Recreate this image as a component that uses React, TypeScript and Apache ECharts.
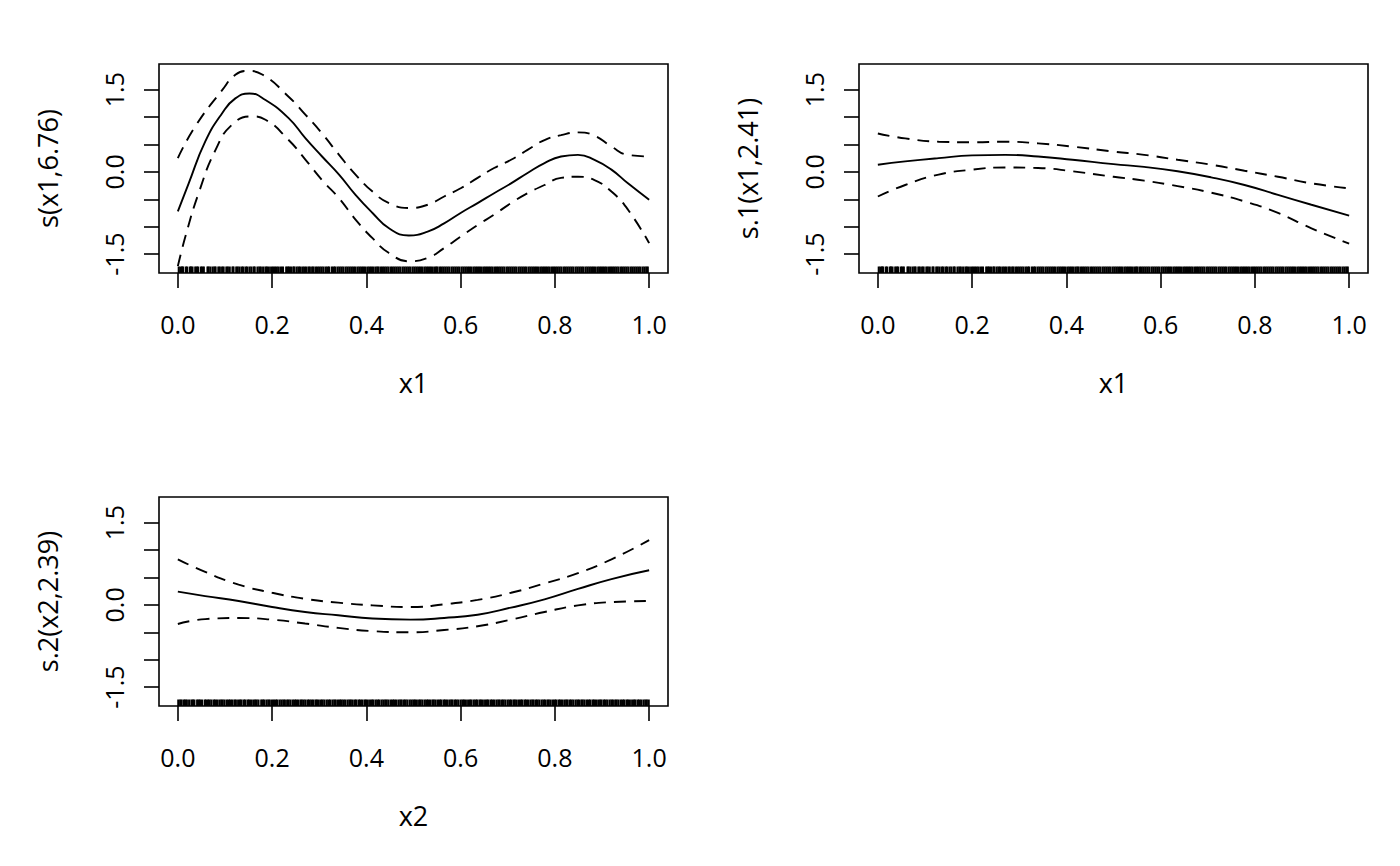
import React, { useEffect, useRef } from "react";
import * as echarts from "echarts";

// ---- axis limits & ticks ----
const X_MIN = -0.04;
const X_MAX = 1.04;
const Y_MIN = -1.845;
const Y_MAX = 1.967;
const xTicks = [0, 0.2, 0.4, 0.6, 0.8, 1.0];
const yTicks = [-1.5, -1.0, -0.5, 0, 0.5, 1.0, 1.5];
const yTickLabels = [-1.5, 0, 1.5];

// ---- panel 1: s(x1,6.76) ----
const p1FitX = [0, 0.023, 0.058, 0.094, 0.122, 0.152, 0.186, 0.235, 0.271, 0.306, 0.342, 0.377, 0.413, 0.448, 0.49, 0.53, 0.565, 0.6, 0.636, 0.671, 0.707, 0.742, 0.778, 0.813, 0.849, 0.884, 0.92, 0.955, 1.0];
const p1Fit = [-0.72, -0.21, 0.55, 1.07, 1.34, 1.43, 1.31, 0.98, 0.61, 0.28, -0.05, -0.42, -0.75, -1.03, -1.16, -1.09, -0.94, -0.75, -0.57, -0.39, -0.21, -0.02, 0.16, 0.28, 0.31, 0.22, 0.04, -0.21, -0.51];
const p1UpX = [0, 0.037, 0.094, 0.122, 0.147, 0.18, 0.235, 0.271, 0.306, 0.342, 0.377, 0.413, 0.448, 0.49, 0.53, 0.565, 0.6, 0.636, 0.671, 0.707, 0.742, 0.778, 0.813, 0.849, 0.884, 0.92, 0.955, 1.0];
const p1Up = [0.25, 0.83, 1.49, 1.77, 1.84, 1.77, 1.37, 1.04, 0.7, 0.31, -0.05, -0.36, -0.57, -0.66, -0.6, -0.45, -0.3, -0.11, 0.07, 0.22, 0.4, 0.58, 0.67, 0.72, 0.66, 0.46, 0.31, 0.28];
const p1LoX = [0, 0.016, 0.044, 0.08, 0.115, 0.157, 0.186, 0.235, 0.271, 0.306, 0.342, 0.377, 0.413, 0.448, 0.49, 0.53, 0.565, 0.6, 0.636, 0.671, 0.707, 0.742, 0.778, 0.813, 0.849, 0.884, 0.92, 0.955, 1.0];
const p1Lo = [-1.72, -1.18, -0.39, 0.4, 0.86, 1.01, 0.95, 0.58, 0.22, -0.15, -0.48, -0.87, -1.21, -1.48, -1.63, -1.57, -1.39, -1.18, -0.97, -0.78, -0.57, -0.39, -0.24, -0.11, -0.09, -0.15, -0.36, -0.69, -1.3];

// ---- panel 2: s.1(x1,2.41) ----
const p2X = [0, 0.058, 0.129, 0.2, 0.27, 0.34, 0.413, 0.5, 0.565, 0.636, 0.707, 0.778, 0.849, 0.92, 1.0];
const p2Fit = [0.13, 0.19, 0.25, 0.3, 0.31, 0.28, 0.22, 0.14, 0.09, 0.01, -0.1, -0.24, -0.42, -0.6, -0.8];
const p2Up = [0.7, 0.61, 0.55, 0.54, 0.55, 0.52, 0.46, 0.37, 0.31, 0.22, 0.13, 0.02, -0.09, -0.21, -0.3];
const p2Lo = [-0.45, -0.24, -0.05, 0.04, 0.08, 0.07, 0.01, -0.09, -0.16, -0.26, -0.38, -0.54, -0.75, -1.03, -1.31];

// ---- panel 3: s.2(x2,2.39) ----
const p3X = [0, 0.058, 0.129, 0.2, 0.27, 0.34, 0.413, 0.494, 0.565, 0.636, 0.707, 0.778, 0.849, 0.92, 1.0];
const p3Fit = [0.24, 0.16, 0.07, -0.04, -0.13, -0.19, -0.25, -0.27, -0.24, -0.18, -0.05, 0.1, 0.29, 0.47, 0.63];
const p3Up = [0.83, 0.6, 0.37, 0.22, 0.11, 0.04, -0.01, -0.04, 0.01, 0.09, 0.22, 0.39, 0.58, 0.83, 1.18];
const p3Lo = [-0.35, -0.26, -0.24, -0.27, -0.34, -0.42, -0.48, -0.5, -0.46, -0.39, -0.27, -0.13, -0.01, 0.05, 0.07];

// ---- rug (covariate values) ----
const x1Rug = [0.002, 0.006, 0.009, 0.011, 0.017, 0.02, 0.026, 0.028, 0.031, 0.037, 0.04, 0.043, 0.049, 0.052, 0.055, 0.063, 0.065, 0.069, 0.074, 0.078, 0.08, 0.086, 0.089, 0.094, 0.097, 0.103, 0.106, 0.11, 0.116, 0.118, 0.124, 0.127, 0.131, 0.136, 0.139, 0.144, 0.147, 0.152, 0.156, 0.161, 0.163, 0.169, 0.173, 0.176, 0.181, 0.186, 0.189, 0.193, 0.198, 0.202, 0.206, 0.21, 0.214, 0.219, 0.223, 0.23, 0.233, 0.236, 0.24, 0.245, 0.247, 0.252, 0.256, 0.259, 0.264, 0.268, 0.272, 0.277, 0.28, 0.285, 0.288, 0.293, 0.297, 0.301, 0.305, 0.309, 0.314, 0.318, 0.321, 0.327, 0.331, 0.334, 0.339, 0.343, 0.347, 0.351, 0.356, 0.36, 0.364, 0.368, 0.372, 0.376, 0.381, 0.385, 0.389, 0.393, 0.397, 0.402, 0.406, 0.41, 0.414, 0.419, 0.423, 0.426, 0.431, 0.435, 0.439, 0.443, 0.447, 0.452, 0.456, 0.46, 0.464, 0.468, 0.472, 0.477, 0.481, 0.485, 0.489, 0.493, 0.498, 0.502, 0.506, 0.51, 0.514, 0.518, 0.523, 0.527, 0.531, 0.535, 0.539, 0.544, 0.548, 0.551, 0.556, 0.56, 0.564, 0.568, 0.572, 0.576, 0.581, 0.585, 0.589, 0.593, 0.597, 0.602, 0.606, 0.61, 0.614, 0.618, 0.622, 0.627, 0.631, 0.635, 0.639, 0.643, 0.648, 0.652, 0.656, 0.66, 0.664, 0.668, 0.673, 0.677, 0.681, 0.685, 0.689, 0.693, 0.698, 0.702, 0.706, 0.71, 0.714, 0.718, 0.723, 0.727, 0.731, 0.735, 0.739, 0.744, 0.748, 0.752, 0.756, 0.76, 0.764, 0.769, 0.773, 0.777, 0.781, 0.785, 0.789, 0.794, 0.798, 0.802, 0.806, 0.81, 0.814, 0.819, 0.823, 0.827, 0.831, 0.835, 0.839, 0.844, 0.848, 0.852, 0.856, 0.86, 0.865, 0.869, 0.873, 0.877, 0.881, 0.885, 0.89, 0.894, 0.898, 0.902, 0.906, 0.91, 0.915, 0.919, 0.923, 0.927, 0.931, 0.935, 0.94, 0.944, 0.948, 0.952, 0.956, 0.961, 0.965, 0.969, 0.973, 0.977, 0.981, 0.986, 0.99, 0.994, 0.997];
const x2Rug = [0.001, 0.005, 0.008, 0.013, 0.016, 0.019, 0.024, 0.029, 0.032, 0.035, 0.041, 0.044, 0.047, 0.051, 0.057, 0.06, 0.064, 0.067, 0.071, 0.076, 0.079, 0.083, 0.088, 0.092, 0.095, 0.099, 0.104, 0.108, 0.111, 0.115, 0.12, 0.123, 0.128, 0.132, 0.135, 0.14, 0.143, 0.148, 0.151, 0.155, 0.16, 0.164, 0.167, 0.171, 0.177, 0.18, 0.183, 0.188, 0.192, 0.195, 0.2, 0.204, 0.208, 0.211, 0.216, 0.22, 0.224, 0.227, 0.232, 0.235, 0.239, 0.244, 0.248, 0.251, 0.255, 0.26, 0.263, 0.267, 0.271, 0.276, 0.279, 0.283, 0.287, 0.292, 0.295, 0.299, 0.304, 0.307, 0.311, 0.316, 0.32, 0.323, 0.328, 0.332, 0.335, 0.34, 0.344, 0.347, 0.351, 0.355, 0.36, 0.364, 0.367, 0.371, 0.376, 0.379, 0.384, 0.387, 0.391, 0.396, 0.399, 0.403, 0.408, 0.412, 0.415, 0.42, 0.424, 0.427, 0.432, 0.436, 0.44, 0.443, 0.447, 0.452, 0.456, 0.459, 0.463, 0.468, 0.472, 0.475, 0.48, 0.483, 0.487, 0.492, 0.496, 0.5, 0.503, 0.507, 0.512, 0.515, 0.519, 0.524, 0.528, 0.531, 0.535, 0.54, 0.543, 0.547, 0.552, 0.556, 0.559, 0.564, 0.567, 0.571, 0.576, 0.58, 0.583, 0.588, 0.591, 0.595, 0.6, 0.604, 0.607, 0.611, 0.616, 0.62, 0.623, 0.628, 0.632, 0.635, 0.64, 0.643, 0.647, 0.652, 0.656, 0.659, 0.664, 0.667, 0.671, 0.676, 0.68, 0.683, 0.688, 0.691, 0.695, 0.7, 0.704, 0.707, 0.712, 0.715, 0.719, 0.724, 0.728, 0.731, 0.736, 0.739, 0.743, 0.748, 0.752, 0.755, 0.76, 0.763, 0.767, 0.772, 0.776, 0.779, 0.784, 0.787, 0.791, 0.796, 0.8, 0.803, 0.808, 0.811, 0.815, 0.82, 0.824, 0.827, 0.832, 0.835, 0.839, 0.844, 0.848, 0.851, 0.856, 0.859, 0.863, 0.868, 0.872, 0.875, 0.88, 0.883, 0.887, 0.892, 0.896, 0.899, 0.904, 0.907, 0.911, 0.916, 0.92, 0.923, 0.928, 0.931, 0.935, 0.94, 0.944, 0.947, 0.952, 0.955, 0.959, 0.964, 0.968, 0.971, 0.976, 0.979, 0.983, 0.988, 0.992, 0.995, 0.999];

const FONT = "Open Sans";
const FS_TICK = 25;
const FS_TITLE = 27;
const LW = 1.6;
const LW_CURVE = 1.9;

const zip = (xs: number[], ys: number[]) => xs.map((x, i) => [x, ys[i]]);

const panels = [
  { left: 159, top: 64, xName: "x1", yName: "s(x1,6.76)", fit: zip(p1FitX, p1Fit), up: zip(p1UpX, p1Up), lo: zip(p1LoX, p1Lo), rug: x1Rug },
  { left: 859, top: 64, xName: "x1", yName: "s.1(x1,2.41)", fit: zip(p2X, p2Fit), up: zip(p2X, p2Up), lo: zip(p2X, p2Lo), rug: x1Rug },
  { left: 159, top: 497, xName: "x2", yName: "s.2(x2,2.39)", fit: zip(p3X, p3Fit), up: zip(p3X, p3Up), lo: zip(p3X, p3Lo), rug: x2Rug },
];

function buildOption() {
  const grid: any[] = [];
  const xAxis: any[] = [];
  const yAxis: any[] = [];
  const series: any[] = [];
  panels.forEach((p, i) => {
    grid.push({
      left: p.left, top: p.top, width: 509, height: 209,
      show: true, borderColor: "#000", borderWidth: LW, backgroundColor: "transparent",
    });
    xAxis.push({
      type: "value", gridIndex: i, min: X_MIN, max: X_MAX, position: "bottom",
      name: p.xName, nameLocation: "middle", nameGap: 96,
      nameTextStyle: { color: "#000", fontFamily: FONT, fontSize: FS_TITLE },
      axisLine: { show: false, onZero: false },
      axisTick: { show: true, length: 15, customValues: xTicks, lineStyle: { color: "#000", width: LW } },
      axisLabel: { customValues: xTicks, margin: 38, color: "#000", fontFamily: FONT, fontSize: FS_TICK, formatter: (v: number) => v.toFixed(1) },
      splitLine: { show: false },
    });
    yAxis.push({
      type: "value", gridIndex: i, min: Y_MIN, max: Y_MAX, position: "left",
      name: p.yName, nameLocation: "middle", nameGap: 98, nameRotate: 90,
      nameTextStyle: { color: "#000", fontFamily: FONT, fontSize: FS_TITLE },
      axisLine: { show: false, onZero: false },
      axisTick: { show: true, length: 15, customValues: yTicks, lineStyle: { color: "#000", width: LW } },
      axisLabel: {
        customValues: yTickLabels, rotate: 90, margin: 33, align: "center", verticalAlign: "bottom",
        color: "#000", fontFamily: FONT, fontSize: FS_TICK, formatter: (v: number) => v.toFixed(1),
      },
      splitLine: { show: false },
    });
    const lineBase = { type: "line", xAxisIndex: i, yAxisIndex: i, showSymbol: false, smooth: 0.5, silent: true };
    series.push({ ...lineBase, data: p.fit, lineStyle: { color: "#000", width: LW_CURVE } });
    series.push({ ...lineBase, data: p.up, lineStyle: { color: "#000", width: LW_CURVE, type: [12, 8] } });
    series.push({ ...lineBase, data: p.lo, lineStyle: { color: "#000", width: LW_CURVE, type: [12, 8] } });
    series.push({
      type: "scatter", xAxisIndex: i, yAxisIndex: i, silent: true,
      data: p.rug.map((x) => [x, Y_MIN]),
      symbol: "rect", symbolSize: [2.2, 6.5], symbolOffset: [0, "-50%"],
      itemStyle: { color: "#000", opacity: 1 },
    });
  });
  return { animation: false, backgroundColor: "#fff", grid, xAxis, yAxis, series };
}

export default function App() {
  const ref = useRef<HTMLDivElement>(null);
  useEffect(() => {
    if (!ref.current) return;
    const chart = echarts.init(ref.current, undefined, { renderer: "svg" });
    chart.setOption(buildOption() as any);
    return () => chart.dispose();
  }, []);
  return (
    <div
      ref={ref}
      style={{ position: "fixed", left: 0, top: 0, width: 1400, height: 866, background: "#fff" }}
    />
  );
}
